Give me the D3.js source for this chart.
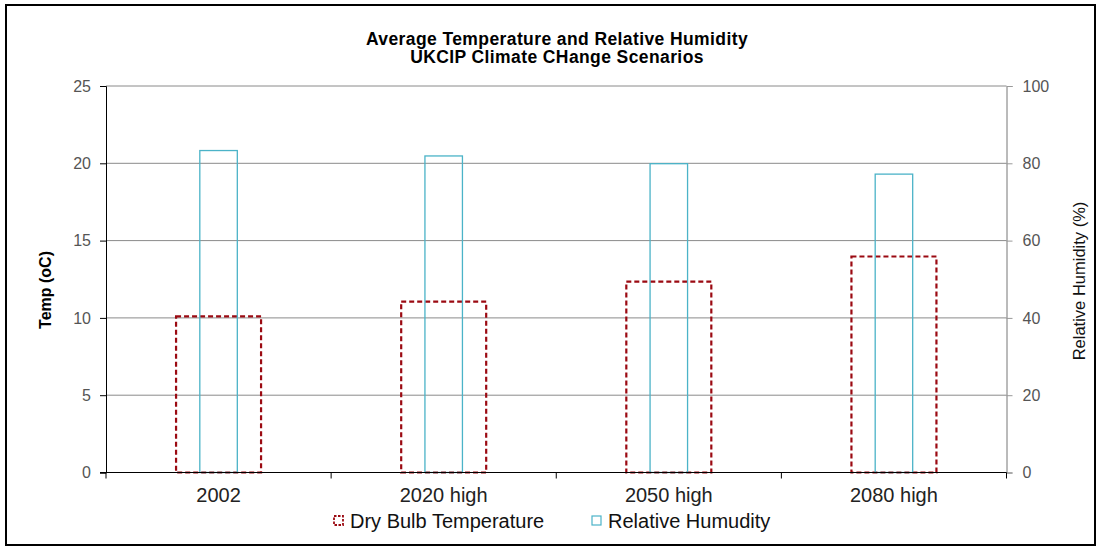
<!DOCTYPE html>
<html><head><meta charset="utf-8">
<script src="https://cdn.jsdelivr.net/npm/d3@7"></script>
<style>body{margin:0;background:#fff}svg{display:block;font-family:"Liberation Sans",Arial,sans-serif}</style>
</head><body><svg id="c" width="1099" height="549"></svg>
<script>
const categories = ["2002","2020 high","2050 high","2080 high"];
const temperature = [10.1, 11.05, 12.35, 13.97];
const humidity = [83.3, 81.9, 79.9, 77.2];
const tempTicks = [0,5,10,15,20,25];
const humTicks = [0,20,40,60,80,100];
const titleLines = ["Average Temperature and Relative Humidity","UKCIP Climate CHange Scenarios"];
const legendLabels = ["Dry Bulb Temperature","Relative Humudity"];

const svg = d3.select("#c");
const L=106, R=1006.5, T=86, B=472.5;
const x = d3.scaleBand().domain(categories).range([L,R]);
const yT = d3.scaleLinear().domain([0,25]).range([B,T]);
const yH = d3.scaleLinear().domain([0,100]).range([B,T]);
const red="#9b0a12", cyan="#4bb3c8";
const FF = "Liberation Sans, Arial, sans-serif";

svg.append("rect").attr("x",6).attr("y",5).attr("width",1089).attr("height",540)
  .attr("fill","#fff").attr("stroke","#000").attr("stroke-width",2);

// title
svg.append("text").attr("text-anchor","middle")
  .style("font-weight","bold").style("font-size","17.5px").style("letter-spacing","0.4px").attr("fill","#000")
  .selectAll("tspan").data(titleLines).join("tspan").attr("x",557)
  .attr("y",(d,i)=>45+i*18).text(d=>d);

// gridlines
svg.append("g").selectAll("line").data(tempTicks.filter(d=>d>0)).join("line")
  .attr("x1",L).attr("x2",R).attr("y1",d=>yT(d)).attr("y2",d=>yT(d))
  .attr("stroke","#8a8a8a").attr("stroke-width",1);

// bars
const tw = 85, hw = 37.5;
svg.append("g").selectAll("rect").data(temperature).join("rect")
  .attr("x",(d,i)=>x(categories[i])+x.bandwidth()/2-tw/2)
  .attr("y",d=>yT(d)).attr("width",tw).attr("height",d=>B-yT(d))
  .attr("fill","none").attr("stroke",red).attr("stroke-width",2.2).attr("stroke-dasharray","5,3");

svg.append("g").selectAll("rect").data(humidity).join("rect")
  .attr("x",(d,i)=>x(categories[i])+x.bandwidth()/2-hw/2)
  .attr("y",d=>yH(d)).attr("width",hw).attr("height",d=>B-yH(d))
  .attr("fill","none").attr("stroke",cyan).attr("stroke-width",1.3);

// left axis
const ga = svg.append("g").attr("transform",`translate(${L},0)`)
  .call(d3.axisLeft(yT).tickValues(tempTicks).tickSize(6).tickPadding(9).tickFormat(d3.format("d")));
ga.select(".domain").attr("stroke","#000");
ga.selectAll(".tick line").attr("stroke","#000");
ga.selectAll("text").style("font-size","16px").attr("fill","#555").style("font-family",FF);

// right axis
const gr = svg.append("g").attr("transform",`translate(${R},0)`)
  .call(d3.axisRight(yH).tickValues(humTicks).tickSize(6).tickPadding(10).tickFormat(d3.format("d")));
gr.select(".domain").attr("stroke","#777");
gr.selectAll(".tick line").attr("stroke","#999");
gr.selectAll("text").style("font-size","16px").attr("fill","#555").style("font-family",FF);

// bottom axis
const xb = svg.append("g").attr("transform",`translate(0,${B})`)
  .call(d3.axisBottom(x).tickSize(0).tickPadding(15));
xb.select(".domain").remove();
xb.append("line").attr("x1",L-6).attr("x2",R).attr("stroke","#000");
xb.selectAll(".tick text").style("font-size","20px").attr("fill","#222").style("font-family",FF);
const bounds = categories.map(c=>x(c)).concat([R]);
xb.selectAll("line.sep").data(bounds).join("line").attr("class","sep")
  .attr("x1",d=>d).attr("x2",d=>d).attr("y1",0).attr("y2",6).attr("stroke","#000");

// axis titles
svg.append("text").attr("transform","translate(51,290) rotate(-90)").attr("text-anchor","middle")
  .style("font-weight","bold").style("font-size","16px").text("Temp (oC)");
svg.append("text").attr("transform","translate(1085,281) rotate(-90)").attr("text-anchor","middle")
  .style("font-size","16.5px").attr("fill","#111").text("Relative Humidity (%)");

// legend
const lg = svg.append("g");
const items = [{x:334, c:red, dash:"2.5,1.5", w:1.8},{x:592, c:cyan, dash:null, w:1.2}];
items.forEach((it,i)=>{
  lg.append("rect").attr("x",it.x).attr("y",516).attr("width",9).attr("height",9)
    .attr("fill","none").attr("stroke",it.c).attr("stroke-width",it.w).attr("stroke-dasharray",it.dash);
  lg.append("text").attr("x",it.x+16).attr("y",528).style("font-size","20px").attr("fill","#111").text(legendLabels[i]);
});
</script></body></html>
